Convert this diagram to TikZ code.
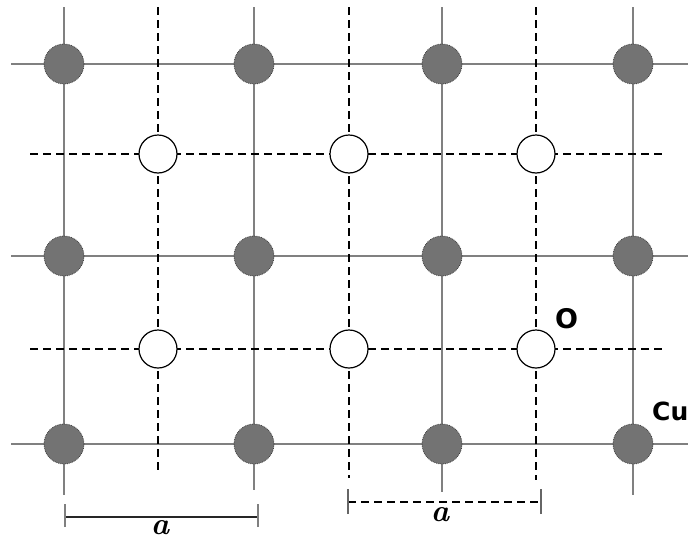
\documentclass[tikz,border=0pt]{standalone}
\usepackage{fontspec}
\newfontfamily\labfont{DejaVu Sans}
\begin{document}
\begin{tikzpicture}[x=1pt,y=-1pt,
  solidline/.style={draw=black!50,line width=1.3pt},
  dashline/.style={draw=black,line width=1.3pt,dash pattern=on 8pt off 5pt},
  cuatom/.style={circle,minimum size=40pt,inner sep=0pt,fill=black!55,draw=black!75,line width=0.8pt,densely dotted},
  oatom/.style={circle,minimum size=38pt,inner sep=0pt,fill=white,draw=black,line width=1.2pt},
  lab/.style={font=\labfont\bfseries\fontsize{27}{32}\selectfont,inner sep=0pt,anchor=west},
  alab/.style={font=\bfseries\itshape\fontsize{31}{34}\selectfont,inner sep=0pt}]
\useasboundingbox (0,0) rectangle (693,541);
% solid lines
\foreach \y/\n in {64/r1,256/r2,444/r3}{
  \coordinate (\n l) at (11,\y); \coordinate (\n r) at (688,\y);
  \draw[solidline] (\n l) -- (\n r);}
\foreach \x/\n/\b in {64/c1/495,254/c2/490,442/c3/492,633/c4/495}{
  \coordinate (\n t) at (\x,7); \coordinate (\n b) at (\x,\b);
  \draw[solidline] (\n t) -- (\n b);}
% dashed lines
\foreach \y/\n in {154/d1,349/d2}{
  \coordinate (\n l) at (30,\y); \coordinate (\n r) at (663,\y);
  \draw[dashline] (\n l) -- (\n r);}
\foreach \x/\n/\b in {158/e1/470,349/e2/478,536/e3/480}{
  \coordinate (\n t) at (\x,7); \coordinate (\n b) at (\x,\b);
  \draw[dashline] (\n t) -- (\n b);}
% Cu atoms
\foreach \x/\i in {64/1,254/2,442/3,633/4}{
  \foreach \y/\j in {64/1,256/2,444/3}{
    \node[cuatom] (cu\i\j) at (\x,\y) {};}}
% O atoms
\foreach \x/\i in {158/1,349/2,536/3}{
  \foreach \y/\j in {154/1,349/2}{
    \node[oatom] (o\i\j) at (\x,\y) {};}}
\node[lab] (Olab) at (555,319) {O};
\node[lab,font=\labfont\bfseries\fontsize{25}{30}\selectfont] (Culab) at (652,411) {Cu};
% scale bars
\coordinate (s1) at (65,517); \coordinate (s2) at (258,517);
\draw[black!85,line width=1.5pt] (s1) -- (s2);
\draw[black!50,line width=1.2pt] ([yshift=-10pt]s1) -- ([yshift=13pt]s1);
\draw[black!50,line width=1.2pt] ([yshift=-10pt]s2) -- ([yshift=13pt]s2);
\node[alab] (a1) at (160,528) {a};
\coordinate (t1) at (348,502); \coordinate (t2) at (541,502);
\draw[black,line width=1.3pt,dash pattern=on 8pt off 5pt] (t1) -- (t2);
\draw[black!60,line width=1.2pt] ([yshift=-12pt]t1) -- ([yshift=13pt]t1);
\draw[black!60,line width=1.2pt] ([yshift=-12pt]t2) -- ([yshift=13pt]t2);
\node[alab] (a2) at (440,515) {a};
\end{tikzpicture}
\end{document}
